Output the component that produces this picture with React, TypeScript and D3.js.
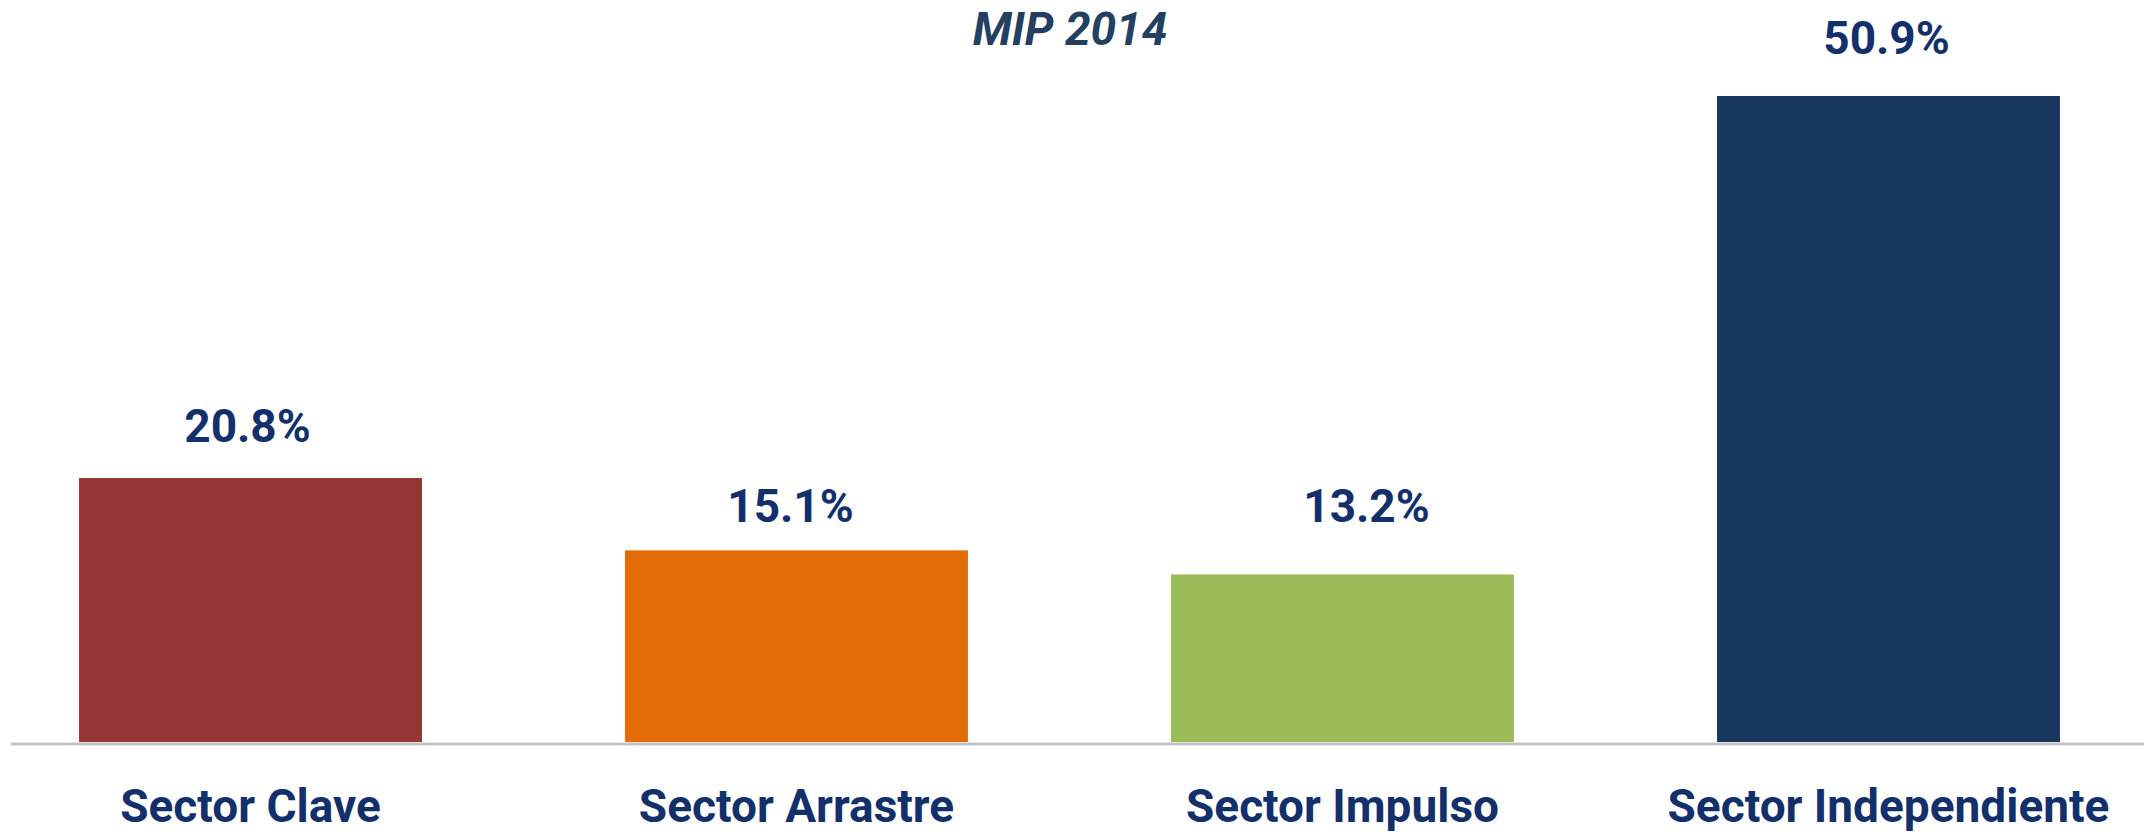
import React from "react";
import * as d3 from "d3";

const title = "MIP 2014";
const categories = ["Sector Clave", "Sector Arrastre", "Sector Impulso", "Sector Independiente"];
const values = [20.8, 15.1, 13.2, 50.9];
const valueLabels = ["20.8%", "15.1%", "13.2%", "50.9%"];
const colors = ["#943634", "#e36c09", "#9bbb59", "#17375e"];

// layout constants (label placement as in the reference)
const W = 2144;
const H = 834;
const baseY = 742;
const labelGap = [36, 28, 52, 42];
const labelDx = [-3, -6, 24, -2];
const textColor = "#13306a";
const font = "Roboto, 'Open Sans', sans-serif";

export default function App() {
  const x = d3
    .scaleBand<string>()
    .domain(categories)
    .range([-22.5, 2161.5])
    .paddingInner(0.372)
    .paddingOuter(0.186);
  const y = d3.scaleLinear().domain([0, 50.9]).range([baseY, 96]);

  return (
    <svg
      width={W}
      height={H}
      style={{ position: "absolute", left: 0, top: 0, background: "#fff" }}
    >
      <text
        x={1070}
        y={45}
        textAnchor="middle"
        fontFamily={font}
        fontWeight={700}
        fontStyle="italic"
        fontSize={46}
        fill="#243f60"
      >
        {title}
      </text>
      {categories.map((c, i) => (
        <rect
          key={c}
          x={x(c)}
          y={y(values[i])}
          width={x.bandwidth()}
          height={baseY - y(values[i])}
          fill={colors[i]}
        />
      ))}
      <line x1={11} x2={W} y1={baseY + 2} y2={baseY + 2} stroke="#c3c3c3" strokeWidth={3} />
      {categories.map((c, i) => (
        <text
          key={"v" + c}
          x={(x(c) as number) + x.bandwidth() / 2 + labelDx[i]}
          y={y(values[i]) - labelGap[i]}
          textAnchor="middle"
          fontFamily={font}
          fontWeight={700}
          fontSize={46}
          fill={textColor}
        >
          {valueLabels[i]}
        </text>
      ))}
      {categories.map((c) => (
        <text
          key={"c" + c}
          x={(x(c) as number) + x.bandwidth() / 2}
          y={822}
          textAnchor="middle"
          fontFamily={font}
          fontWeight={700}
          fontSize={46}
          fill={textColor}
        >
          {c}
        </text>
      ))}
    </svg>
  );
}
